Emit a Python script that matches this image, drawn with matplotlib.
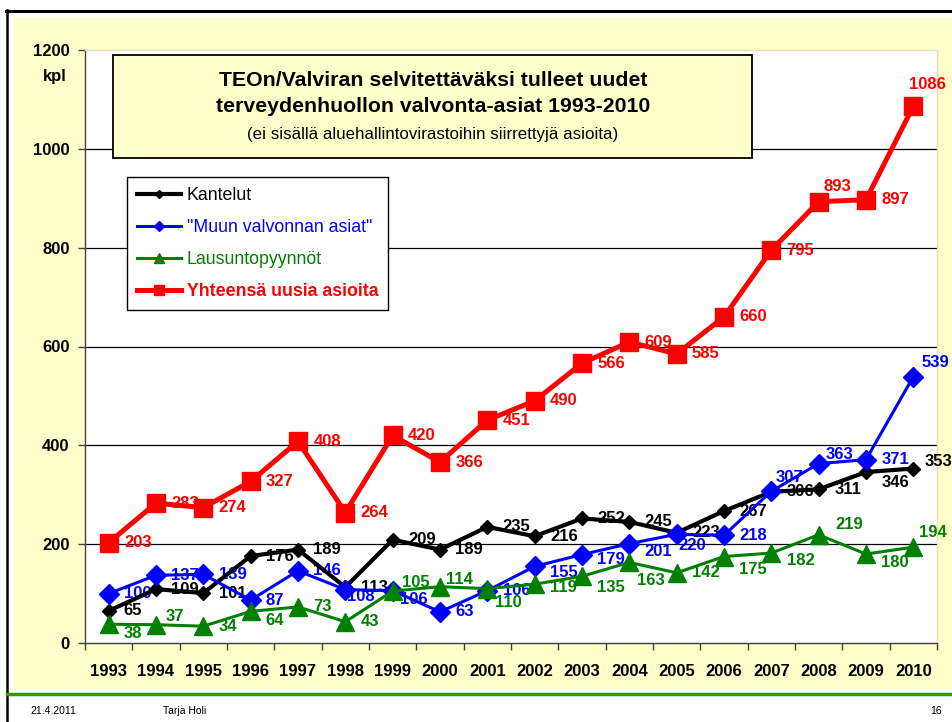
import matplotlib
matplotlib.use("Agg")
import matplotlib.pyplot as plt
from matplotlib.patches import Rectangle
from matplotlib.lines import Line2D

plt.rcParams['font.family'] = ['Liberation Sans', 'DejaVu Sans']

years = [str(y) for y in range(1993, 2011)]
kantelut = [65, 109, 101, 176, 189, 113, 209, 189, 235, 216, 252, 245, 223, 267, 306, 311, 346, 353]
muun = [100, 137, 139, 87, 146, 108, 106, 63, 106, 155, 179, 201, 220, 218, 307, 363, 371, 539]
lausunto = [38, 37, 34, 64, 73, 43, 105, 114, 110, 119, 135, 163, 142, 175, 182, 219, 180, 194]
yhteensa = [203, 283, 274, 327, 408, 264, 420, 366, 451, 490, 566, 609, 585, 660, 795, 893, 897, 1086]

series_names = ['Kantelut', '"Muun valvonnan asiat"', 'Lausuntopyynnöt', 'Yhteensä uusia asioita']
yticks = [0, 200, 400, 600, 800, 1000, 1200]

W, H = 953, 722
fig = plt.figure(figsize=(W / 100, H / 100), dpi=100, facecolor='white')

def fx(px):
    return px / W

def fy(py):
    return 1 - py / H

# slide background
fig.patches.append(Rectangle((fx(13), fy(690)), fx(953) - fx(13), fy(17) - fy(690),
                             transform=fig.transFigure, facecolor='#FFFFCC', edgecolor='none', zorder=-5))
fig.lines.append(Line2D([fx(6), 1], [fy(10.5), fy(10.5)], transform=fig.transFigure, color='black', lw=2.2, zorder=-4))
fig.lines.append(Line2D([fx(6.5), fx(6.5)], [0, fy(10)], transform=fig.transFigure, color='black', lw=1.8, zorder=-4))
fig.lines.append(Line2D([fx(7), 1], [fy(694), fy(694)], transform=fig.transFigure, color='#339900', lw=2.5, zorder=-4))

ax = fig.add_axes([fx(85), fy(643), fx(937) - fx(85), fy(50) - fy(643)])
ax.set_zorder(1)
ax.set_facecolor('white')
x = list(range(len(years)))
ax.set_xlim(-0.5, len(years) - 0.5)
ax.set_ylim(0, 1200)

for s in ['top', 'right']:
    ax.spines[s].set_color('#E6E0B8')
    ax.spines[s].set_linewidth(1.0)
for s in ['left', 'bottom']:
    ax.spines[s].set_color('#404040')
    ax.spines[s].set_linewidth(1.0)

ax.set_yticks(yticks)
ax.set_yticklabels([str(v) for v in yticks], fontsize=12, fontweight='bold')
ax.tick_params(axis='y', direction='out', length=5, width=1, color='#404040', pad=6)
ax.set_xticks([i + 0.5 for i in range(-1, len(years))], minor=False)
ax.set_xticklabels([])
ax.set_xticks(x, minor=True)
ax.set_xticklabels(years, minor=True, fontsize=12, fontweight='bold')
ax.tick_params(axis='x', which='major', direction='out', length=5, width=1, color='#404040')
ax.tick_params(axis='x', which='minor', length=0, pad=15)

for v in yticks[1:-1]:
    ax.axhline(v, color='black', lw=0.9, zorder=1)

styles = [
    dict(color='black', lw=3.0, marker='D', ms=7, zorder=4),
    dict(color='#0000FF', lw=2.2, marker='D', ms=10, zorder=5),
    dict(color='#008000', lw=2.2, marker='^', ms=13, zorder=6),
    dict(color='#FF0000', lw=3.6, marker='s', ms=13, zorder=7),
]
data = [kantelut, muun, lausunto, yhteensa]

# label offsets (pixels; dx None -> default to the right)
offsets = [
    {16: (None, -10), 17: (25, 7)},
    {5: (15, -7), 6: (21, -9), 9: (None, -6), 10: (None, -5), 11: (None, -8), 12: (16, -11),
     14: (18, 14), 15: (21, 9), 17: (22, 14)},
    {0: (None, -9), 1: (19, 8), 3: (None, -9), 6: (23, 9), 7: (19, 7), 8: (21, -14), 9: (None, -3),
     10: (None, -11), 11: (22, -18), 13: (None, -13), 14: (None, -7), 15: (31, 10), 16: (None, -8),
     17: (20, 15)},
    {15: (19, 15), 17: (14, 22)},
]

handles = []
for vals, st, name, offs in zip(data, styles, series_names, offsets):
    ln, = ax.plot(x, vals, color=st['color'], lw=st['lw'], marker=st['marker'], ms=st['ms'],
                  markerfacecolor=st['color'], markeredgecolor=st['color'], zorder=st['zorder'],
                  solid_joinstyle='miter', clip_on=False, label=name)
    handles.append(ln)
    for i, v in enumerate(vals):
        txt = str(v)
        dx, dy = offs.get(i, (None, 0))
        if dx is None:
            dx = 15 + 4.7 * len(txt)
        ax.annotate(txt, (i, v), xytext=(dx, dy), textcoords='offset pixels',
                    ha='center', va='center', fontsize=12, fontweight='bold',
                    color=st['color'], zorder=3, annotation_clip=False)

# kpl label
fig.text(fx(55), fy(76), 'kpl', fontsize=12, fontweight='bold', ha='center', va='center')

# title box
fig.patches.append(Rectangle((fx(113), fy(158)), fx(752) - fx(113), fy(55) - fy(158),
                             transform=fig.transFigure, facecolor='#FFFFCC', edgecolor='black',
                             lw=1.3, zorder=10))
fig.text(fx(433), fy(80), 'TEOn/Valviran selvitettäväksi tulleet uudet', fontsize=15.3,
         fontweight='bold', ha='center', va='center', zorder=11)
fig.text(fx(433), fy(107), 'terveydenhuollon valvonta-asiat 1993-2010', fontsize=15.3,
         fontweight='bold', ha='center', va='center', zorder=11)
fig.text(fx(433), fy(134), '(ei sisällä aluehallintovirastoihin siirrettyjä asioita)', fontsize=12.2,
         ha='center', va='center', zorder=11)

# legend
leg = ax.legend(handles=handles, loc='upper left', bbox_to_anchor=(fx(127), fy(177)),
                bbox_transform=fig.transFigure, borderaxespad=0, frameon=True, fancybox=False,
                edgecolor='black', facecolor='white', framealpha=1, fontsize=12.8,
                handlelength=2.5, handletextpad=0.3, labelspacing=0.85, markerscale=0.55,
                borderpad=0.55)
leg.get_frame().set_linewidth(1.0)
leg.set_zorder(12)
for t, st in zip(leg.get_texts(), styles):
    t.set_color(st['color'])
leg.get_texts()[3].set_fontweight('bold')

# footer
fig.text(fx(30), fy(711), '21.4.2011', fontsize=7.5, ha='left', va='center')
fig.text(fx(163), fy(711), 'Tarja Holi', fontsize=7.5, ha='left', va='center')
fig.text(fx(942), fy(711), '16', fontsize=7.5, ha='right', va='center')

fig.savefig('out.png', dpi=100, facecolor='white')
